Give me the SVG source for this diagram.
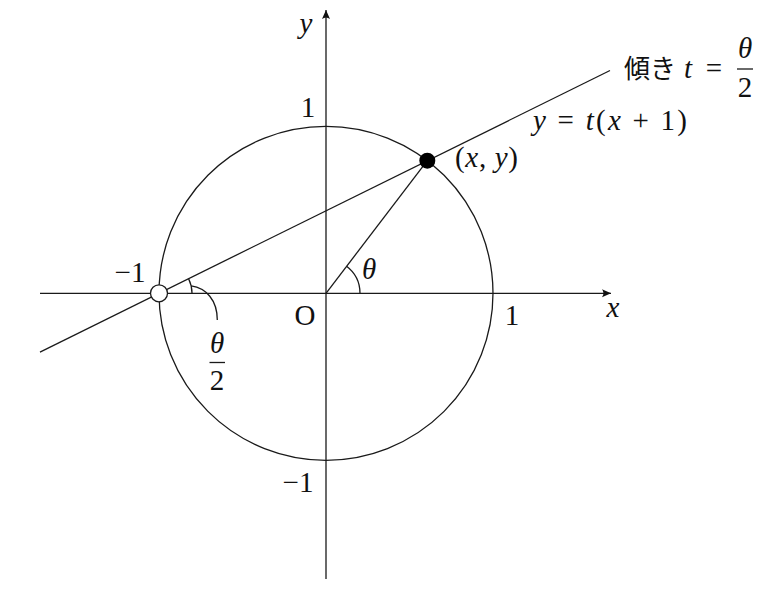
<svg xmlns="http://www.w3.org/2000/svg" width="768" height="590" viewBox="0 0 768 590">
<defs>
<marker id="arr" markerUnits="userSpaceOnUse" markerWidth="12" markerHeight="10" viewBox="-10 -5 12 10" refX="0" refY="0" orient="auto">
<path d="M0,0 L-9,-4 Q-6,0 -9,4 Z" fill="#111"/>
</marker>
<style>
.ln{fill:none;stroke:#1a1a1a;stroke-width:1.3}
.t{font-family:"Liberation Serif","Times New Roman",serif;font-size:29px;fill:#111}
.i{font-style:italic}
.j{font-family:"Noto Sans CJK JP","Noto Sans CJK SC",sans-serif;font-size:26px;fill:#111}
</style>
</defs>
<rect width="768" height="590" fill="#fff"/>
<g id="connectors">
<line id="x-axis" class="ln" x1="40" y1="293.3" x2="611" y2="293.3" marker-end="url(#arr)"/>
<line id="y-axis" class="ln" x1="326" y1="579" x2="326" y2="10" marker-end="url(#arr)"/>
<circle id="unit-circle" class="ln" cx="326" cy="293.3" r="167"/>
<line id="secant" class="ln" x1="40" y1="352.1" x2="610" y2="70.5"/>
<line id="radius" class="ln" x1="326" y1="293.3" x2="427.3" y2="160.7"/>
<path id="arc-theta" class="ln" d="M360,293.3 A34,34 0 0 0 346.6,266.3"/>
<path id="arc-half" class="ln" d="M192,293.3 A33,33 0 0 0 188.6,278.7"/>
<path id="leader" class="ln" d="M191.2,285.9 C206,288 217.3,300 217.3,320"/>
</g>
<g id="point-minus1">
<circle cx="159" cy="293.3" r="8.5" fill="#fff" stroke="#1a1a1a" stroke-width="1.3"/>
</g>
<g id="point-xy">
<circle cx="427.3" cy="160.7" r="8" fill="#000"/>
<text class="t" x="455" y="167" textLength="63" lengthAdjust="spacing">(<tspan class="i">x</tspan>, <tspan class="i">y</tspan>)</text>
</g>
<g id="labels">
<text class="t i" x="306" y="33" text-anchor="middle">y</text>
<text class="t i" x="613" y="317" text-anchor="middle">x</text>
<text class="t" x="308" y="117" text-anchor="middle">1</text>
<text class="t" x="512" y="325" text-anchor="middle">1</text>
<text class="t" x="130" y="282" text-anchor="middle">−1</text>
<text class="t" x="298" y="492" text-anchor="middle">−1</text>
<text class="t" x="305" y="325" text-anchor="middle">O</text>
<text class="t i" x="369" y="279" text-anchor="middle">θ</text>
<text class="t i" x="217" y="353" text-anchor="middle">θ</text>
<line class="ln" x1="209.5" y1="362.5" x2="225" y2="362.5"/>
<text class="t" x="217" y="390" text-anchor="middle">2</text>
<text class="t" x="533" y="130" textLength="154" lengthAdjust="spacing"><tspan class="i">y</tspan> = <tspan class="i">t</tspan>(<tspan class="i">x</tspan> + 1)</text>
</g>
<g id="slope-label">
<text class="j" x="624" y="78">傾き</text>
<text class="t i" x="688" y="78" text-anchor="middle">t</text>
<text class="t" x="714" y="78" text-anchor="middle">=</text>
<text class="t i" x="745" y="58" text-anchor="middle">θ</text>
<line class="ln" x1="737" y1="69" x2="753" y2="69"/>
<text class="t" x="745" y="97" text-anchor="middle">2</text>
</g>
</svg>
